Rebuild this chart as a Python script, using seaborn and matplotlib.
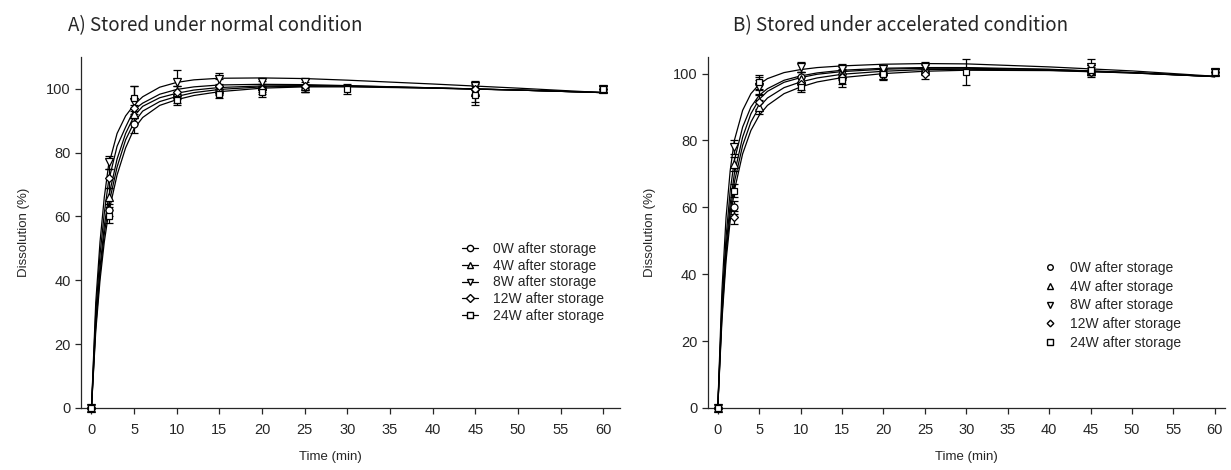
import numpy as np
import pandas as pd
import matplotlib
matplotlib.use("Agg")
import matplotlib.pyplot as plt
from matplotlib.lines import Line2D
import seaborn as sns

sns.set_style("ticks")
plt.rcParams['font.family'] = ['Liberation Sans', 'DejaVu Sans']

labels = ["0W after storage", "4W after storage", "8W after storage",
          "12W after storage", "24W after storage"]
markers = ["o", "^", "v", "D", "s"]
msizes = [5, 5.5, 5.5, 4.2, 4.8]

t_main = [0, 2, 5, 10, 15, 20, 25, 45, 60]
t_24w = [0, 2, 5, 10, 15, 20, 30, 45, 60]

# fitted curves
t_fit = [0, 0.5, 1, 1.5, 2, 3, 4, 5, 6, 8, 10, 12, 15, 20, 25, 30, 40, 50, 60]

# A) normal condition
a_mean = {
    "0W after storage": [0, 62, 89, 97, 99.5, 100, 100.5, 100, 100],
    "4W after storage": [0, 66, 92, 99, 100, 101, 101, 99, 100],
    "8W after storage": [0, 77, 96, 102, 103, 102, 102, 101, 100],
    "12W after storage": [0, 72, 94, 99, 101, 100, 101, 100, 100],
    "24W after storage": [0, 60, 97, 96.5, 98.5, 99, 100, 98, 100],
}
a_sd = {
    "0W after storage": [0, 2, 3, 1.5, 1.5, 1, 1.5, 1.5, 1],
    "4W after storage": [0, 3, 3, 2, 1.5, 1.5, 2, 3, 1],
    "8W after storage": [0, 2, 5, 4, 2, 1.5, 1.5, 1.5, 1],
    "12W after storage": [0, 3, 3, 2, 2, 1.5, 2, 2, 1],
    "24W after storage": [0, 2, 4, 1.5, 1.5, 1.5, 1.5, 3, 1],
}
a_fit = {
    "0W after storage": [0, 25.5, 42, 54.5, 63.5, 75.5, 84, 89.5, 93, 96, 97.6, 98.8, 99.8, 100.6, 100.8, 100.8, 100.2, 99.6, 98.8],
    "4W after storage": [0, 27, 44, 57, 66, 78, 86, 91.5, 94.5, 97.2, 98.6, 99.6, 100.4, 100.9, 101, 100.9, 100.3, 99.6, 98.8],
    "8W after storage": [0, 33, 52, 66, 76, 86, 91.5, 95, 97.5, 100.5, 102, 102.8, 103.3, 103.4, 103.2, 102.7, 101.5, 100.2, 98.8],
    "12W after storage": [0, 30, 48, 61, 71, 82, 88, 93.5, 95.5, 98.3, 99.8, 100.6, 101.2, 101.4, 101.3, 101, 100.3, 99.6, 98.8],
    "24W after storage": [0, 24, 40, 52, 61, 73, 81.5, 87.5, 91, 94.8, 96.6, 97.9, 99.1, 100.2, 100.6, 100.6, 100.2, 99.6, 98.8],
}

# B) accelerated condition
b_mean = {
    "0W after storage": [0, 60, 97, 99, 100, 100, 101, 101, 100.5],
    "4W after storage": [0, 73, 90, 98.5, 100, 101, 101.5, 101, 100.5],
    "8W after storage": [0, 78, 96, 102, 101.5, 101.5, 102, 102, 100.5],
    "12W after storage": [0, 57, 91.5, 97, 99, 99.5, 100, 100.5, 100.5],
    "24W after storage": [0, 65, 97.5, 96, 98, 100, 100.5, 101, 100.5],
}
b_sd = {
    "0W after storage": [0, 2, 2, 1.5, 2, 1.5, 1.5, 1.5, 1],
    "4W after storage": [0, 2, 2, 2, 1.5, 1.5, 1.5, 1.5, 1],
    "8W after storage": [0, 2, 2, 1.5, 1.5, 1, 1.5, 2.5, 1],
    "12W after storage": [0, 2, 2, 2, 2, 1.5, 1.5, 1.5, 1],
    "24W after storage": [0, 2, 2, 1.5, 2, 1.5, 4, 1.5, 1],
}
b_fit = {
    "0W after storage": [0, 29, 48, 61, 70, 81, 88, 92.3, 94.7, 97.4, 98.8, 99.8, 100.6, 101.3, 101.6, 101.6, 101.2, 100.3, 99.1],
    "4W after storage": [0, 31, 51, 65, 74, 84, 90, 93.5, 95.5, 98, 99.3, 100.2, 101, 101.6, 101.8, 101.8, 101.3, 100.3, 99.1],
    "8W after storage": [0, 35, 57, 71, 80, 89, 94, 96.8, 98.5, 100.3, 101.2, 101.8, 102.3, 102.8, 103, 102.9, 102, 100.8, 99.2],
    "12W after storage": [0, 27.5, 46, 58.5, 67.5, 78.5, 85.5, 90, 92.7, 95.8, 97.5, 98.7, 99.8, 100.7, 101.2, 101.3, 101, 100.2, 99.1],
    "24W after storage": [0, 26, 44, 56, 65, 76, 83, 87.5, 90.5, 94, 96, 97.5, 98.8, 100, 100.7, 101, 100.9, 100.2, 99.1],
}


def fit_frame(fit):
    rows = []
    for lab in labels:
        for t, v in zip(t_fit, fit[lab]):
            rows.append({"time": t, "value": v, "series": lab})
    return pd.DataFrame(rows)


def draw_panel(ax, mean, sd, fit, title, ymax, xmax, title_x, xlab_x,
               line_legend, leg_anchor):
    sns.lineplot(data=fit_frame(fit), x="time", y="value", hue="series",
                 palette=["black"] * 5, linewidth=0.9, legend=False, ax=ax,
                 errorbar=None)
    for lab, m, ms in zip(labels, markers, msizes):
        tt = t_24w if lab.startswith("24W") else t_main
        ax.errorbar(tt, mean[lab], yerr=sd[lab], fmt=m, ms=ms, mfc="white",
                    mec="black", mew=0.9, ecolor="black", elinewidth=0.9,
                    capsize=3, capthick=0.9, clip_on=False, zorder=3)
    ax.set_xlim(-1.2, xmax)
    ax.set_ylim(0, ymax)
    ax.set_xticks(range(0, 61, 5))
    ax.set_yticks(range(0, 101, 20))
    ax.set_xlabel("Time (min)", fontsize=9.5)
    ax.xaxis.set_label_coords(xlab_x, -0.122)
    ax.set_ylabel("Dissolution (%)", fontsize=9.5, labelpad=12)
    ax.tick_params(labelsize=10.5, length=4, width=0.9, direction="out")
    ax.tick_params(axis="x", pad=7)
    sns.despine(ax=ax)
    for s in ["left", "bottom"]:
        ax.spines[s].set_linewidth(0.9)
    ax.text(title_x, 1.09, title, transform=ax.transAxes, fontsize=13.5,
            family=["Noto Sans CJK JP", "DejaVu Sans"], va="center", ha="left")
    if line_legend:
        handles = [Line2D([0], [0], color="black", lw=0.9, marker=m, ms=ms * 0.9,
                          mfc="white", mec="black") for m, ms in zip(markers, msizes)]
        ax.legend(handles, labels, loc="upper left", bbox_to_anchor=leg_anchor,
                  frameon=False, fontsize=10, handlelength=1.1,
                  handletextpad=1.1, labelspacing=0.2, borderpad=0)
    else:
        handles = [Line2D([0], [0], color="none", marker=m, ms=ms * 0.8,
                          mfc="white", mec="black", lw=0) for m, ms in zip(markers, msizes)]
        ax.legend(handles, labels, loc="upper left", bbox_to_anchor=leg_anchor,
                  frameon=False, fontsize=10, handlelength=1.6,
                  handletextpad=0.65, labelspacing=0.35, borderpad=0)


fig = plt.figure(figsize=(12.31, 4.70), dpi=100)
ax1 = fig.add_axes([0.066, 0.132, 0.438, 0.747])
ax2 = fig.add_axes([0.575, 0.132, 0.420, 0.747])

draw_panel(ax1, a_mean, a_sd, a_fit, "A) Stored under normal condition",
           110, 62, -0.024, 0.462, True, (0.694, 0.493))
draw_panel(ax2, b_mean, b_sd, b_fit, "B) Stored under accelerated condition",
           105, 61.2, 0.048, 0.501, False, (0.627, 0.439))

fig.savefig("out.png", dpi=100)
